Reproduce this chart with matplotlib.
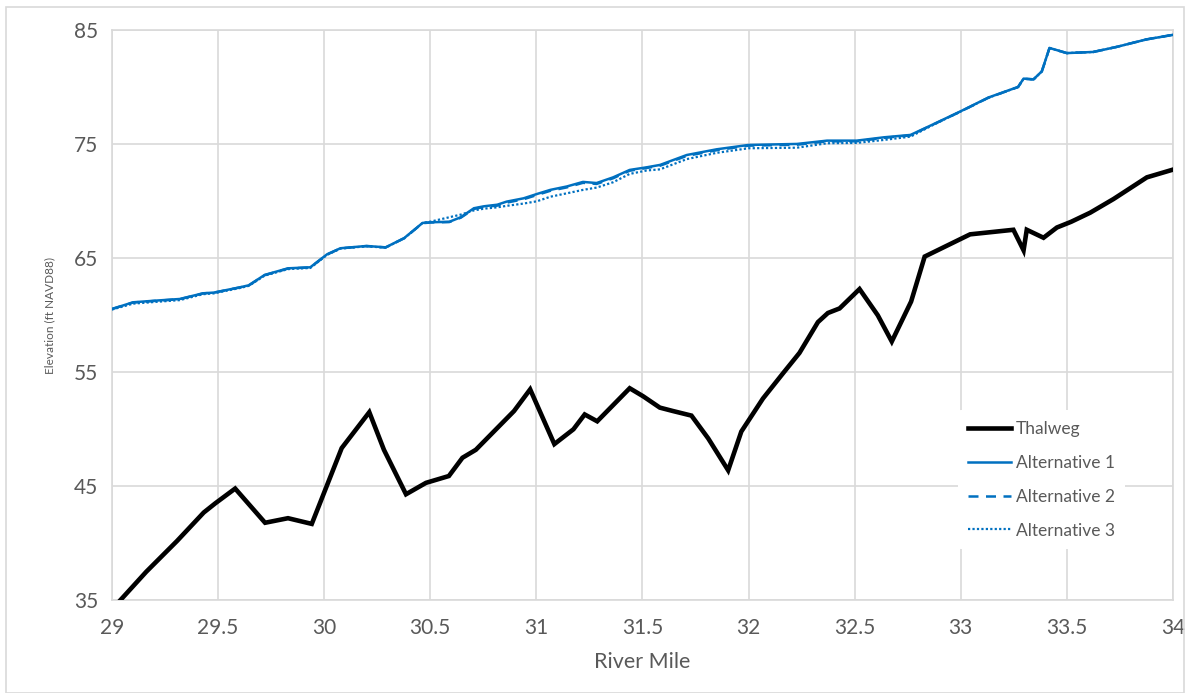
import matplotlib.pyplot as plt
from matplotlib.patches import Rectangle

plt.rcParams['font.family'] = ['Lato', 'DejaVu Sans']

# thalweg profile
thal_mile = [29.02, 29.162, 29.307, 29.433, 29.487, 29.581, 29.722, 29.83, 29.942,
             30.083, 30.213, 30.282, 30.386, 30.48, 30.588, 30.652, 30.715, 30.895,
             30.971, 31.085, 31.175, 31.228, 31.287, 31.44, 31.503, 31.582, 31.644,
             31.731, 31.81, 31.904, 31.966, 32.068, 32.162, 32.24, 32.327, 32.374,
             32.429, 32.523, 32.609, 32.675, 32.766, 32.83, 33.044, 33.248, 33.296,
             33.311, 33.39, 33.453, 33.52, 33.61, 33.72, 33.877, 33.995]
thal_elev = [34.6, 37.5, 40.2, 42.7, 43.5, 44.8, 41.8, 42.2, 41.7,
             48.35, 51.5, 48.2, 44.3, 45.3, 45.9, 47.5, 48.2, 51.6,
             53.5, 48.7, 50.0, 51.3, 50.7, 53.6, 52.9, 51.9, 51.6,
             51.2, 49.2, 46.4, 49.8, 52.7, 54.9, 56.7, 59.4, 60.2,
             60.6, 62.3, 60.0, 57.7, 61.2, 65.15, 67.1, 67.5, 65.7,
             67.5, 66.8, 67.7, 68.2, 69.0, 70.2, 72.1, 72.75]

# water surface profiles
ws_mile = [29.0, 29.1, 29.21, 29.32, 29.43, 29.48, 29.605, 29.645, 29.72, 29.83,
           29.935, 30.014, 30.077, 30.2, 30.29, 30.378, 30.464, 30.503, 30.59, 30.644,
           30.706, 30.753, 30.816, 30.86, 30.94, 31.003, 31.066, 31.144, 31.22, 31.284,
           31.362, 31.44, 31.52, 31.583, 31.709, 31.85, 32.0, 32.228, 32.37, 32.51,
           32.637, 32.763, 32.87, 33.0, 33.13, 33.27, 33.296, 33.343, 33.382, 33.418,
           33.5, 33.625, 33.734, 33.875, 34.0]
alt1_elev = [60.55, 61.14, 61.29, 61.43, 61.93, 61.99, 62.46, 62.63, 63.54, 64.12,
             64.21, 65.35, 65.88, 66.08, 65.96, 66.78, 68.1, 68.16, 68.2, 68.6,
             69.39, 69.56, 69.7, 69.97, 70.26, 70.64, 71.0, 71.3, 71.7, 71.6,
             72.1, 72.75, 72.98, 73.19, 74.06, 74.56, 74.94, 75.03, 75.32, 75.32,
             75.61, 75.82, 76.75, 77.9, 79.1, 80.03, 80.76, 80.7, 81.4, 83.45,
             83.0, 83.1, 83.54, 84.2, 84.6]
alt2_elev = [60.55, 61.12, 61.27, 61.41, 61.92, 61.98, 62.45, 62.62, 63.52, 64.1,
             64.2, 65.33, 65.87, 66.07, 65.95, 66.76, 68.08, 68.14, 68.18, 68.56,
             69.33, 69.5, 69.62, 69.88, 70.18, 70.55, 70.92, 71.22, 71.62, 71.52,
             72.02, 72.68, 72.92, 73.12, 73.98, 74.48, 74.88, 74.96, 75.26, 75.26,
             75.56, 75.78, 76.73, 77.88, 79.08, 80.02, 80.75, 80.69, 81.39, 83.44,
             83.0, 83.1, 83.54, 84.2, 84.6]
alt3_elev = [60.5, 61.02, 61.18, 61.33, 61.85, 61.92, 62.4, 62.58, 63.48, 64.05,
             64.15, 65.3, 65.85, 66.05, 65.93, 66.76, 68.1, 68.22, 68.6, 68.83,
             69.2, 69.35, 69.47, 69.6, 69.8, 70.0, 70.4, 70.7, 71.0, 71.2,
             71.67, 72.4, 72.7, 72.8, 73.7, 74.25, 74.65, 74.7, 75.09, 75.12,
             75.38, 75.67, 76.7, 77.88, 79.08, 80.02, 80.75, 80.69, 81.39, 83.44,
             83.0, 83.1, 83.54, 84.2, 84.6]

blue = '#0070C0'
grid_col = '#d9d9d9'
txt_col = '#595959'

fig = plt.figure(figsize=(11.9, 6.93), dpi=100)
ax = fig.add_axes([0.094, 0.1338, 0.8917, 0.8225])

ax.plot(thal_mile, thal_elev, color='black', lw=3.3, label='Thalweg', zorder=5,
        solid_joinstyle='miter')
ax.plot(ws_mile, alt1_elev, color=blue, lw=1.8, label='Alternative 1', zorder=4)
ax.plot(ws_mile, alt2_elev, color=blue, lw=1.8, ls=(0, (4, 3)), label='Alternative 2', zorder=4)
ax.plot(ws_mile, alt3_elev, color=blue, lw=1.6, ls=(0, (1, 1)), label='Alternative 3', zorder=4)

ax.set_xlim(29, 34)
ax.set_ylim(35, 85)
ax.set_xticks([29, 29.5, 30, 30.5, 31, 31.5, 32, 32.5, 33, 33.5, 34])
ax.set_xticklabels(['29', '29.5', '30', '30.5', '31', '31.5', '32', '32.5', '33', '33.5', '34'])
ax.set_yticks([35, 45, 55, 65, 75, 85])
ax.grid(True, color=grid_col, lw=1.2)
ax.set_axisbelow(True)
for s in ax.spines.values():
    s.set_color(grid_col)
    s.set_linewidth(1.2)
ax.tick_params(length=0, labelsize=15, colors=txt_col, pad=10)
ax.tick_params(axis='x', pad=13)

ax.set_xlabel('River Mile', fontsize=15.5, color=txt_col, labelpad=10)
ax.set_ylabel('Elevation (ft NAVD88)', fontsize=8.5, color=txt_col, labelpad=13)

leg = ax.legend(loc='upper left', bbox_to_anchor=(0.797, 0.333), frameon=True,
                fontsize=12.5, handlelength=2.5, handletextpad=0.25,
                labelspacing=1.03, borderpad=0.6, borderaxespad=0)
leg.get_frame().set_edgecolor('none')
leg.get_frame().set_facecolor('white')
leg.get_frame().set_alpha(1)
for t in leg.get_texts():
    t.set_color(txt_col)

# outer chart border
fig.patches.append(Rectangle((6 / 1190, 0.0), 1178 / 1190, 1 - 7 / 693,
                             transform=fig.transFigure, fill=False,
                             edgecolor=grid_col, lw=1.2))

fig.savefig('out.png', dpi=100)
